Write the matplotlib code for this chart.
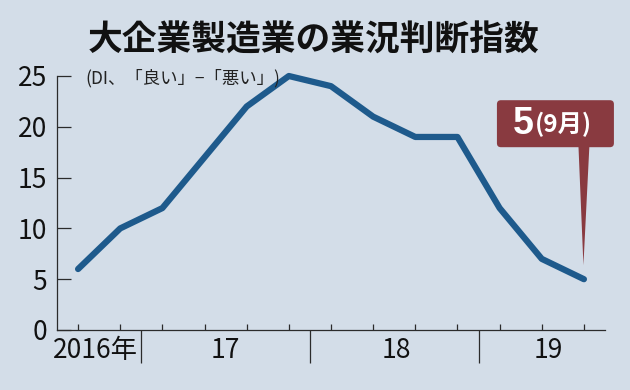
import matplotlib
matplotlib.use("Agg")
import matplotlib.pyplot as plt
import matplotlib.transforms as mtransforms
from matplotlib.patches import FancyBboxPatch, Polygon

plt.rcParams['font.family'] = ['Liberation Sans Narrow', 'Noto Sans CJK JP', 'DejaVu Sans']

# Tankan DI, large manufacturers, quarterly (2016 Sep .. 2019 Sep)
quarters = ["16-09", "16-12", "17-03", "17-06", "17-09", "17-12", "18-03",
            "18-06", "18-09", "18-12", "19-03", "19-06", "19-09"]
di_values = [6, 10, 12, 17, 22, 25, 24, 21, 19, 19, 12, 7, 5]
year_labels = ["2016年", "17", "18", "19"]
year_label_pos = [0.42, 3.5, 7.55, 11.15]
year_breaks = [1.5, 5.5, 9.5]
y_ticks = [0, 5, 10, 15, 20, 25]
title = "大企業製造業の業況判断指数"
subtitle = "(DI、「良い」−「悪い」)"
callout_value = "5"
callout_month = "(9月)"

bg = "#d3dde8"
line_color = "#1e5a8c"
box_color = "#893a40"
axis_color = "#2b2b2b"

fig = plt.figure(figsize=(6.3, 3.9), dpi=100, facecolor=bg)
ax = fig.add_axes([57 / 630, 1 - 330 / 390, (605 - 57) / 630, (330 - 76) / 390])
ax.set_facecolor(bg)

x = list(range(len(quarters)))
ax.plot(x, di_values, color=line_color, lw=4.5, solid_capstyle="round",
        solid_joinstyle="round", clip_on=False, zorder=3)

ax.set_xlim(-0.5, 12.5)
ax.set_ylim(0, 25)

for s in ["top", "right"]:
    ax.spines[s].set_visible(False)
for s in ["left", "bottom"]:
    ax.spines[s].set_color(axis_color)
    ax.spines[s].set_linewidth(0.9)

ax.set_yticks(y_ticks)
ax.tick_params(axis="y", direction="in", length=10, width=0.9, color=axis_color,
               pad=7, labelsize=19, labelcolor="#111111")
ax.set_xticks(x)
ax.set_xticklabels([])
ax.set_xticks(year_breaks, minor=True)
ax.tick_params(axis="x", which="major", direction="in", length=4.5, width=0.9,
               color=axis_color)
ax.tick_params(axis="x", which="minor", direction="out", length=24, width=0.9,
               color=axis_color)

for lbl, pos in zip(year_labels, year_label_pos):
    ax.text(pos, -0.08, lbl, transform=ax.get_xaxis_transform(), ha="center",
            va="center", fontsize=19, color="#111111")

fig.text(314 / 630, 1 - 40 / 390, title, ha="center", va="center",
         fontsize=25, fontweight="bold", family=["Noto Sans CJK JP"], color="#111111")
fig.text(85 / 630, 1 - 78 / 390, subtitle, ha="left", va="center",
         fontsize=12.5, family=["Noto Sans CJK JP"], color="#222222")

# callout anchored to the last point, offsets in inches
trans = fig.dpi_scale_trans + mtransforms.ScaledTranslation(x[-1], di_values[-1], ax.transData)
box = FancyBboxPatch((-0.87, 1.32), 1.17, 0.47,
                     boxstyle="round,pad=0,rounding_size=0.04",
                     facecolor=box_color, edgecolor="none", transform=trans,
                     clip_on=False, zorder=4)
fig.add_artist(box)
pointer = Polygon([(-0.055, 1.34), (0.055, 1.34), (-0.005, 0.14)], closed=True,
                  facecolor=box_color, edgecolor="none", transform=trans,
                  clip_on=False, zorder=4)
fig.add_artist(pointer)
fig.text(-0.505, 1.555, callout_value, transform=trans, ha="right", va="center",
         fontsize=27, fontweight="bold", color="white",
         family=["Liberation Sans", "DejaVu Sans"], zorder=5)
fig.text(-0.49, 1.55, callout_month, transform=trans, ha="left", va="center",
         fontsize=17.5, fontweight="bold", color="white", family=["Noto Sans CJK JP"],
         zorder=5)

fig.savefig("out.png", dpi=100, facecolor=bg)
